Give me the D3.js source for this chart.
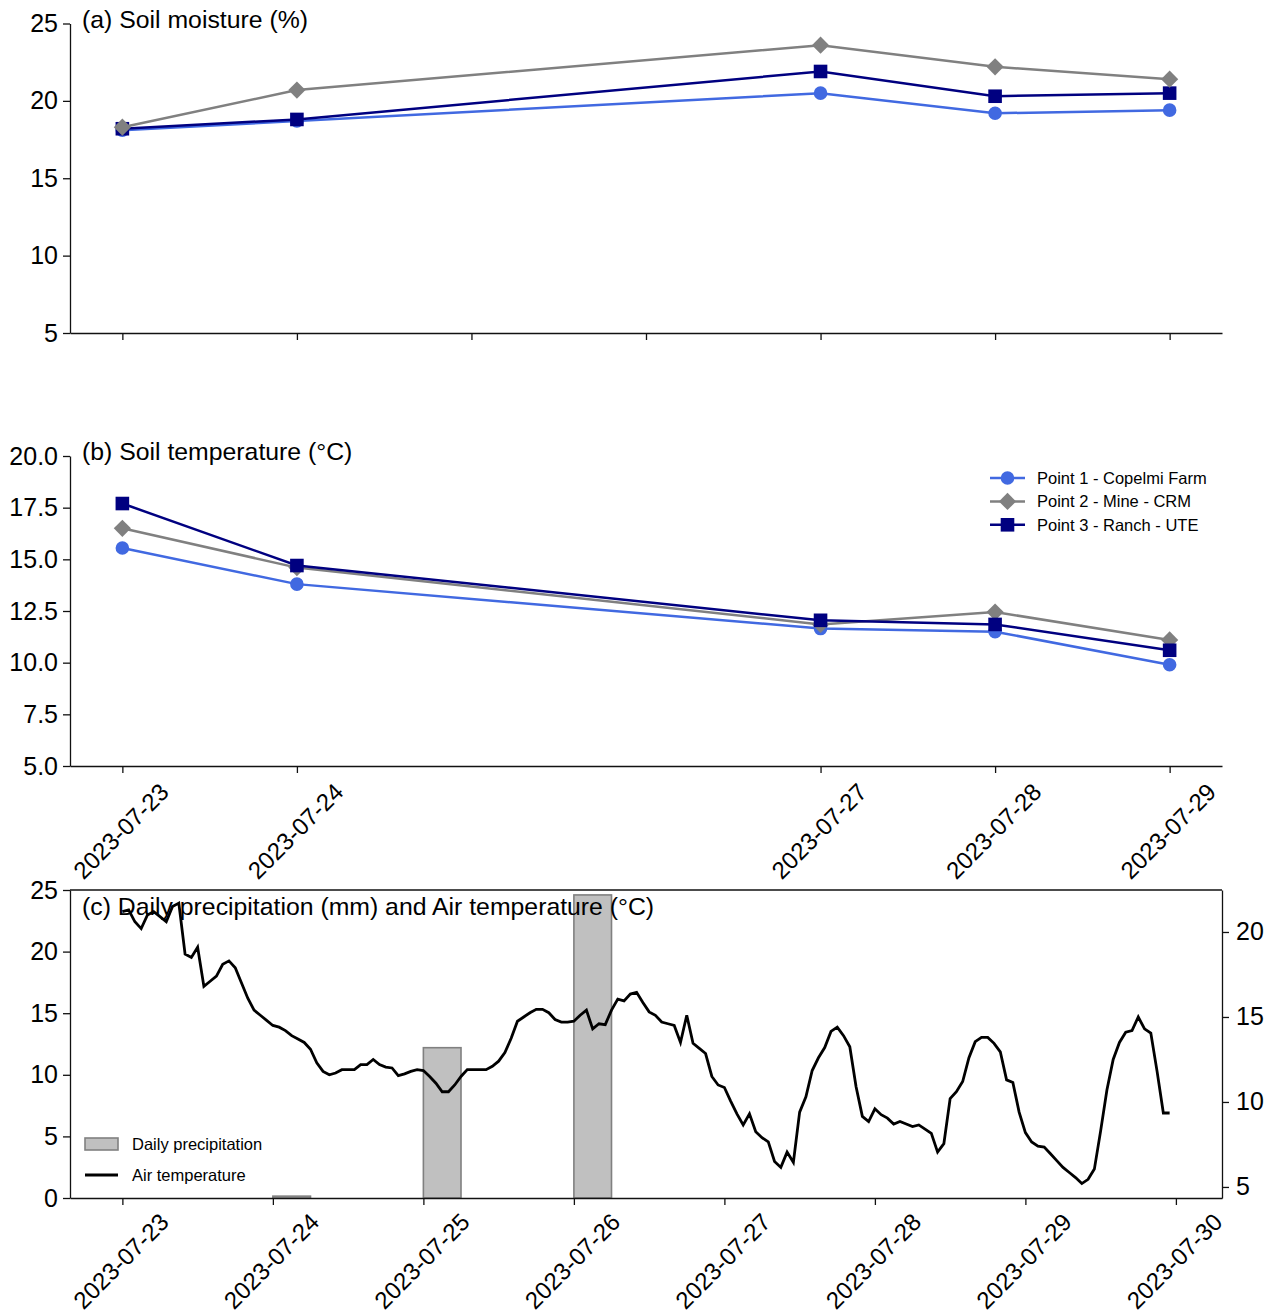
<!DOCTYPE html>
<html>
<head>
<meta charset="utf-8">
<script src="https://cdn.jsdelivr.net/npm/d3@7"></script>
<style>
  body { margin: 0; background: #fff; }
  svg text { font-family: "Liberation Sans", Arial, sans-serif; fill: #000; }
</style>
</head>
<body>
<svg id="chart" width="1276" height="1316"></svg>
<script>

// soil sampling dates and values
const soilDates = ["2023-07-23", "2023-07-24", "2023-07-27", "2023-07-28", "2023-07-29"]
const moisture1 = [18.1, 18.7, 20.5, 19.2, 19.4]
const moisture2 = [18.3, 20.7, 23.6, 22.2, 21.4]
const moisture3 = [18.2, 18.8, 21.9, 20.3, 20.5]
const soilTemp1 = [15.55, 13.8, 11.65, 11.5, 9.9]
const soilTemp2 = [16.5, 14.6, 11.85, 12.45, 11.1]
const soilTemp3 = [17.7, 14.7, 12.05, 11.85, 10.6]

const seriesNames = ["Point 1 - Copelmi Farm", "Point 2 - Mine - CRM", "Point 3 - Ranch - UTE"]
const seriesColors = ["#4169e1", "#808080", "#000080"]
const seriesShapes = ["circle", "diamond", "square"]

// daily precipitation (mm)
const precipDates = ["2023-07-24", "2023-07-25", "2023-07-26"]
const precip = [0.15, 12.2, 24.6]

// hourly air temperature (°C) from 2023-07-23 00:00
const airStart = "2023-07-23"
const airTemp = [
  21.2, 21.3, 20.6, 20.2, 21.0, 21.2, 20.9, 20.6, 21.5, 21.7, 18.7, 18.5,
  19.1, 16.8, 17.1, 17.4, 18.1, 18.3, 17.9, 17.0, 16.1, 15.4, 15.1, 14.8,
  14.5, 14.4, 14.2, 13.9, 13.7, 13.5, 13.1, 12.3, 11.8, 11.6, 11.7, 11.9,
  11.9, 11.9, 12.2, 12.2, 12.5, 12.2, 12.05, 12.0, 11.55, 11.65, 11.8, 11.9,
  11.85, 11.5, 11.1, 10.6, 10.6, 11.0, 11.5, 11.9, 11.9, 11.9, 11.9, 12.1,
  12.4, 12.9, 13.75, 14.75, 15.0, 15.25, 15.45, 15.45, 15.25, 14.85, 14.7, 14.7,
  14.75, 15.1, 15.4, 14.3, 14.6, 14.55, 15.4, 16.05, 15.95, 16.35, 16.45, 15.85,
  15.3, 15.1, 14.7, 14.6, 14.5, 13.5, 15.1, 13.45, 13.15, 12.85, 11.5, 11.0,
  10.85, 10.05, 9.3, 8.65, 9.3, 8.25, 7.9, 7.65, 6.5, 6.15, 7.05, 6.45,
  9.4, 10.3, 11.85, 12.6, 13.2, 14.15, 14.4, 13.9, 13.25, 10.9, 9.15, 8.85,
  9.6, 9.25, 9.05, 8.7, 8.85, 8.7, 8.55, 8.65, 8.4, 8.15, 7.05, 7.55,
  10.2, 10.6, 11.2, 12.6, 13.55, 13.8, 13.8, 13.45, 12.95, 11.3, 11.15, 9.4,
  8.2, 7.65, 7.4, 7.35, 6.95, 6.55, 6.15, 5.85, 5.55, 5.2, 5.45, 6.05,
  8.3, 10.7, 12.5, 13.5, 14.1, 14.2, 15.0, 14.3, 14.05, 11.8, 9.35, 9.35
]

const dayTicksAB = ["2023-07-23", "2023-07-24", "2023-07-25", "2023-07-26", "2023-07-27", "2023-07-28", "2023-07-29"]
const dayTicksC = ["2023-07-23", "2023-07-24", "2023-07-25", "2023-07-26", "2023-07-27", "2023-07-28", "2023-07-29", "2023-07-30"]

const DAY = 864e5
const HOUR = 36e5
const parseDay = d3.utcParse("%Y-%m-%d")
const fmtDay = d3.utcFormat("%Y-%m-%d")

let svg = d3.select("#chart")

const left = 70, right = 1222
const tickFont = 25, titleFont = 24.8, dateFont = 24

function marker(shape) {
  if (shape == "circle") return d3.symbol(d3.symbolCircle, Math.PI * 6.8 * 6.8)()
  if (shape == "square") return d3.symbol(d3.symbolSquare, 13.6 * 13.6)()
  return "M0,-8.6L8.6,0L0,8.6L-8.6,0Z"
}

function styleAxis(g) {
  g.attr("font-size", tickFont).attr("font-family", null)
  g.selectAll("path, line").attr("stroke", "#111").attr("stroke-width", 1.3)
  g.selectAll("text").attr("fill", "#000")
}

// date labels turned 45 degrees, centred under the tick
function rotateLabels(g, dx, dy) {
  g.selectAll("text")
    .attr("y", null).attr("dy", null)
    .attr("font-size", dateFont)
    .attr("text-anchor", "middle")
    .attr("dominant-baseline", "central")
    .attr("transform", "translate(" + dx + "," + dy + ") rotate(-45)")
}

const xAB = d3.scaleUtc()
  .domain([new Date(+parseDay(soilDates[0]) - 0.3 * DAY), new Date(+parseDay(soilDates[4]) + 0.3 * DAY)])
  .range([left, right])

function soilPanel(top, bottom, yDomain, ticks, tickFmt, title, values, order, showDates, legend) {
  let y = d3.scaleLinear().domain(yDomain).range([bottom, top])
  let g = svg.append("g")

  let xTicks = showDates ? soilDates : dayTicksAB
  let xa = g.append("g")
    .attr("transform", "translate(0," + bottom + ")")
    .call(d3.axisBottom(xAB).tickValues(xTicks.map(parseDay)).tickSize(7).tickSizeOuter(0)
      .tickFormat(showDates ? fmtDay : ""))
  styleAxis(xa)
  if (showDates) rotateLabels(xa, -2, 65)

  let ya = g.append("g")
    .attr("transform", "translate(" + left + ",0)")
    .call(d3.axisLeft(y).tickValues(ticks).tickSize(7).tickSizeOuter(0).tickPadding(5).tickFormat(tickFmt))
  styleAxis(ya)

  g.append("text")
    .attr("x", 82).attr("y", top + 4)
    .attr("font-size", titleFont)
    .text(title)

  let line = d3.line().x(d => xAB(d.date)).y(d => y(d.v))

  for (let i of order) {
    let pts = soilDates.map((d, j) => ({ date: parseDay(d), v: values[i][j] }))
    g.append("path")
      .attr("d", line(pts))
      .attr("fill", "none")
      .attr("stroke", seriesColors[i])
      .attr("stroke-width", 2.5)
    g.selectAll(null)
      .data(pts)
      .enter().append("path")
      .attr("d", marker(seriesShapes[i]))
      .attr("transform", d => "translate(" + xAB(d.date) + "," + y(d.v) + ")")
      .attr("fill", seriesColors[i])
  }

  if (legend) {
    let lg = g.append("g").attr("transform", "translate(990,478)")
    seriesNames.forEach((name, i) => {
      let row = lg.append("g").attr("transform", "translate(0," + (i * 23.4) + ")")
      row.append("line").attr("x1", 0).attr("x2", 35)
        .attr("stroke", seriesColors[i]).attr("stroke-width", 2.5)
      row.append("path").attr("d", marker(seriesShapes[i]))
        .attr("transform", "translate(17.5,0)").attr("fill", seriesColors[i])
      row.append("text").attr("x", 47).attr("y", 0).attr("dy", "0.36em")
        .attr("font-size", 16.5).text(name)
    })
  }
}

soilPanel(23.5, 333, [5, 25], [5, 10, 15, 20, 25], d3.format("d"),
  "(a) Soil moisture (%)", [moisture1, moisture2, moisture3], [0, 2, 1], false, false)

soilPanel(456, 766, [5, 20], [5, 7.5, 10, 12.5, 15, 17.5, 20], d3.format(".1f"),
  "(b) Soil temperature (°C)", [soilTemp1, soilTemp2, soilTemp3], [0, 1, 2], true, true)

// panel (c)
const cTop = 890, cBottom = 1198
const airPoints = airTemp.map((v, i) => ({ date: new Date(+parseDay(airStart) + i * HOUR), v: v }))
const xC = d3.scaleUtc()
  .domain([new Date(+parseDay(airStart) - 0.348 * DAY), new Date(+airPoints[airPoints.length - 1].date + 0.348 * DAY)])
  .range([left, right])
const yP = d3.scaleLinear().domain([0, 25]).range([cBottom, cTop])
const yT = d3.scaleLinear().domain([4.35, 22.47]).range([cBottom, cTop])

let gc = svg.append("g")

gc.selectAll("rect.bar")
  .data(precipDates.map((d, i) => ({ date: parseDay(d), v: precip[i] })))
  .enter().append("rect")
  .attr("class", "bar")
  .attr("x", d => xC(d.date))
  .attr("width", d => xC(new Date(+d.date + 0.25 * DAY)) - xC(d.date))
  .attr("y", d => yP(d.v))
  .attr("height", d => yP(0) - yP(d.v))
  .attr("fill", "#c0c0c0")
  .attr("stroke", "#808080")
  .attr("stroke-width", 1.6)

gc.append("text")
  .attr("x", 82).attr("y", cTop + 25)
  .attr("font-size", titleFont)
  .text("(c) Daily precipitation (mm) and Air temperature (°C)")

gc.append("path")
  .attr("d", d3.line().x(d => xC(d.date)).y(d => yT(d.v))(airPoints))
  .attr("fill", "none")
  .attr("stroke", "#000")
  .attr("stroke-width", 2.8)
  .attr("stroke-linejoin", "miter")

let xca = gc.append("g")
  .attr("transform", "translate(0," + cBottom + ")")
  .call(d3.axisBottom(xC).tickValues(dayTicksC.map(parseDay)).tickSize(7).tickSizeOuter(0).tickFormat(fmtDay))
styleAxis(xca)
rotateLabels(xca, -2, 63)

let yca = gc.append("g")
  .attr("transform", "translate(" + left + ",0)")
  .call(d3.axisLeft(yP).tickValues([0, 5, 10, 15, 20, 25]).tickSize(7).tickSizeOuter(0).tickPadding(5))
styleAxis(yca)

let yta = gc.append("g")
  .attr("transform", "translate(" + right + ",0)")
  .call(d3.axisRight(yT).tickValues([5, 10, 15, 20]).tickSize(7).tickSizeOuter(0).tickPadding(7))
styleAxis(yta)

gc.append("line").attr("x1", left).attr("x2", right).attr("y1", cTop).attr("y2", cTop)
  .attr("stroke", "#111").attr("stroke-width", 1.3)

let lc = gc.append("g").attr("transform", "translate(85,1144)")
lc.append("rect").attr("x", 0).attr("y", -6).attr("width", 33).attr("height", 12)
  .attr("fill", "#c0c0c0").attr("stroke", "#808080").attr("stroke-width", 1.6)
lc.append("text").attr("x", 47).attr("y", 0).attr("dy", "0.36em").attr("font-size", 16.5)
  .text("Daily precipitation")
lc.append("line").attr("x1", 0).attr("x2", 33).attr("y1", 31).attr("y2", 31)
  .attr("stroke", "#000").attr("stroke-width", 2.8)
lc.append("text").attr("x", 47).attr("y", 31).attr("dy", "0.36em").attr("font-size", 16.5)
  .text("Air temperature")

</script>
</body>
</html>
